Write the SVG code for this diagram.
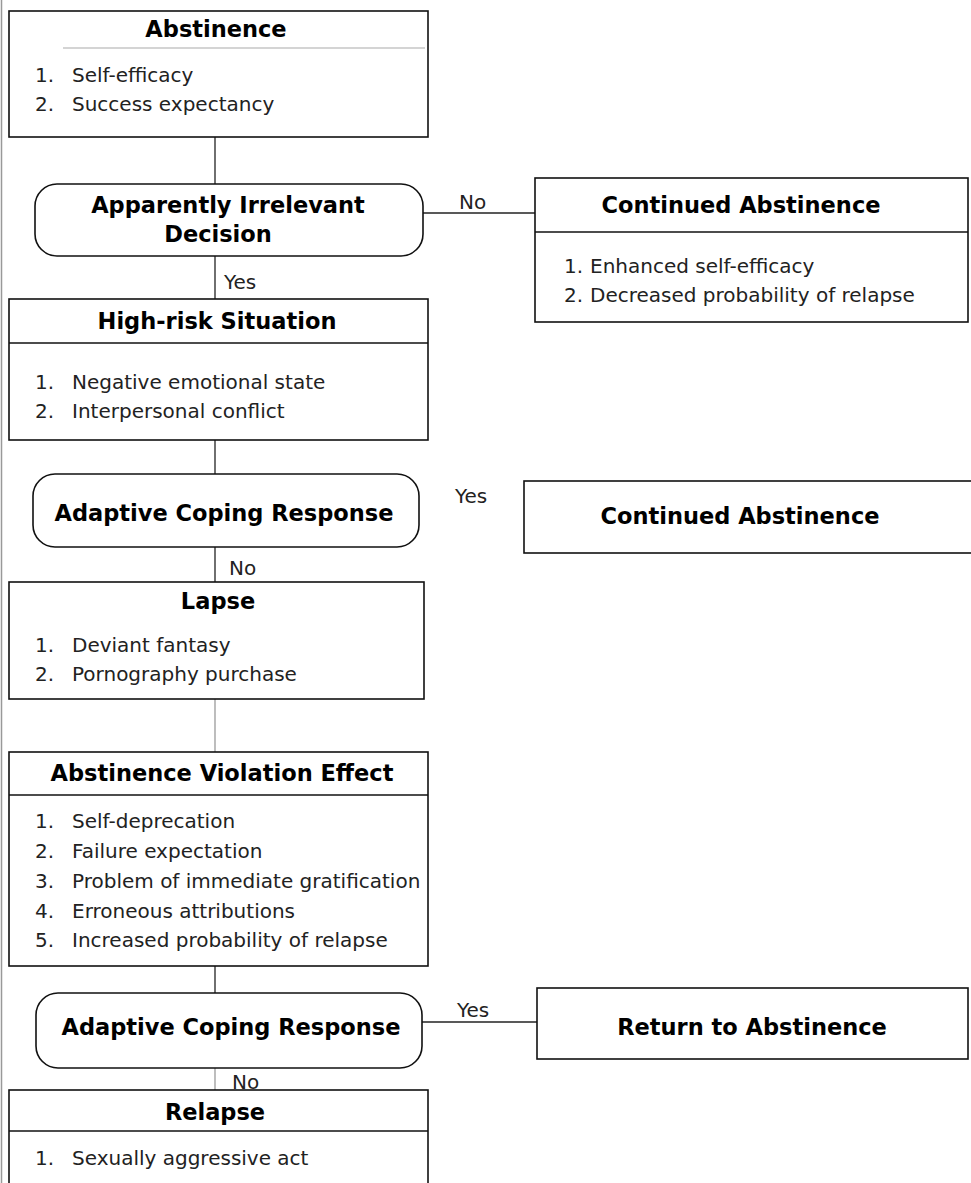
<svg xmlns="http://www.w3.org/2000/svg" width="971" height="1183" viewBox="0 0 971 1183">
<style>
.box{fill:#fff;stroke:#111;stroke-width:1.6}
.dec{fill:#fff;stroke:#111;stroke-width:1.6}
.div{stroke:#111;stroke-width:1.6;fill:none}
.faint{stroke:#aaa;stroke-width:1.2;fill:none}
.con{stroke:#222;stroke-width:1.3;fill:none}
.conf{stroke:#888;stroke-width:1.1;fill:none}
.t{font-family:"DejaVu Sans","Liberation Sans",sans-serif;font-weight:bold;font-size:22.5px;fill:#000;text-anchor:middle}
.i{font-family:"DejaVu Sans","Liberation Sans",sans-serif;font-size:20px;fill:#222}
.l{font-family:"DejaVu Sans","Liberation Sans",sans-serif;font-size:20px;fill:#222}
</style>
<rect x="0" y="0" width="971" height="1183" fill="#fff"/>
<line x1="1.5" y1="0" x2="1.5" y2="1183" stroke="#999" stroke-width="1.5"/>
<g id="connectors">
<line class="con" x1="215" y1="137" x2="215" y2="184"/>
<line class="con" x1="423" y1="213" x2="535" y2="213"/>
<line class="con" x1="215" y1="256" x2="215" y2="299"/>
<line class="con" x1="215" y1="440" x2="215" y2="474"/>
<line class="con" x1="215" y1="547" x2="215" y2="582"/>
<line class="conf" x1="215" y1="699" x2="215" y2="752"/>
<line class="con" x1="215" y1="966" x2="215" y2="993"/>
<line class="con" x1="422" y1="1022" x2="537" y2="1022" stroke-width="2"/>
<line class="conf" x1="215" y1="1068" x2="215" y2="1090"/>
<text class="l" x="459" y="209">No</text>
<text class="l" x="224" y="289">Yes</text>
<text class="l" x="455" y="503">Yes</text>
<text class="l" x="229" y="575">No</text>
<text class="l" x="457" y="1017">Yes</text>
<text class="l" x="232" y="1089">No</text>
</g>
<g id="abstinence">
<rect class="box" x="9" y="11" width="419" height="126"/>
<line class="faint" x1="63" y1="48" x2="425" y2="48"/>
<text class="t" x="216" y="37">Abstinence</text>
<text class="i" x="35" y="82">1.</text><text class="i" x="72" y="82">Self-efficacy</text>
<text class="i" x="35" y="111">2.</text><text class="i" x="72" y="111">Success expectancy</text>
</g>
<g id="decision1">
<rect class="dec" x="35" y="184" width="388" height="72" rx="22" ry="22"/>
<text class="t" x="228" y="213">Apparently Irrelevant</text>
<text class="t" x="218" y="242">Decision</text>
</g>
<g id="continued1">
<rect class="box" x="535" y="178" width="433" height="144"/>
<line class="div" x1="535" y1="232" x2="968" y2="232"/>
<text class="t" x="741" y="213">Continued Abstinence</text>
<text class="i" x="564" y="273">1.</text><text class="i" x="590" y="273">Enhanced self-efficacy</text>
<text class="i" x="564" y="302">2.</text><text class="i" x="590" y="302">Decreased probability of relapse</text>
</g>
<g id="highrisk">
<rect class="box" x="9" y="299" width="419" height="141"/>
<line class="div" x1="9" y1="343" x2="428" y2="343"/>
<text class="t" x="217" y="329">High-risk Situation</text>
<text class="i" x="35" y="389">1.</text><text class="i" x="72" y="389">Negative emotional state</text>
<text class="i" x="35" y="418">2.</text><text class="i" x="72" y="418">Interpersonal conflict</text>
</g>
<g id="decision2">
<rect class="dec" x="33" y="474" width="386" height="73" rx="22" ry="22"/>
<text class="t" x="224" y="521">Adaptive Coping Response</text>
</g>
<g id="continued2">
<rect class="box" x="524" y="481" width="460" height="72"/>
<text class="t" x="740" y="524">Continued Abstinence</text>
</g>
<g id="lapse">
<rect class="box" x="9" y="582" width="415" height="117"/>
<text class="t" x="218" y="609">Lapse</text>
<text class="i" x="35" y="652">1.</text><text class="i" x="72" y="652">Deviant fantasy</text>
<text class="i" x="35" y="681">2.</text><text class="i" x="72" y="681">Pornography purchase</text>
</g>
<g id="ave">
<rect class="box" x="9" y="752" width="419" height="214"/>
<line class="div" x1="9" y1="795" x2="428" y2="795"/>
<text class="t" x="222" y="781">Abstinence Violation Effect</text>
<text class="i" x="35" y="828">1.</text><text class="i" x="72" y="828">Self-deprecation</text>
<text class="i" x="35" y="858">2.</text><text class="i" x="72" y="858">Failure expectation</text>
<text class="i" x="35" y="888">3.</text><text class="i" x="72" y="888">Problem of immediate gratification</text>
<text class="i" x="35" y="918">4.</text><text class="i" x="72" y="918">Erroneous attributions</text>
<text class="i" x="35" y="947">5.</text><text class="i" x="72" y="947">Increased probability of relapse</text>
</g>
<g id="decision3">
<rect class="dec" x="36" y="993" width="386" height="75" rx="22" ry="22"/>
<text class="t" x="231" y="1035">Adaptive Coping Response</text>
</g>
<g id="return">
<rect class="box" x="537" y="988" width="431" height="71"/>
<text class="t" x="752" y="1035">Return to Abstinence</text>
</g>
<g id="relapse">
<rect class="box" x="9" y="1090" width="419" height="110"/>
<line class="div" x1="9" y1="1131" x2="428" y2="1131"/>
<text class="t" x="215" y="1120">Relapse</text>
<text class="i" x="35" y="1165">1.</text><text class="i" x="72" y="1165">Sexually aggressive act</text>
</g>
</svg>
